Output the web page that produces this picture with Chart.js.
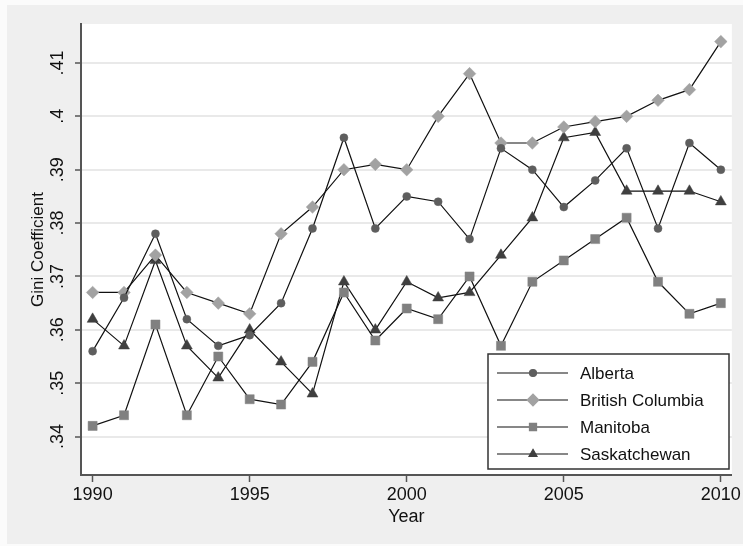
<!DOCTYPE html>
<html>
<head>
<meta charset="utf-8">
<script src="https://cdn.jsdelivr.net/npm/chart.js@4.4.1/dist/chart.umd.min.js"></script>
<style>
  html, body { margin: 0; padding: 0; background: #fbfbfb; }
  #wrap { width: 743px; height: 546px; }
</style>
</head>
<body>
<div id="wrap"><canvas id="giniChart" width="743" height="546"></canvas></div>
<script>
// Gini coefficient by province, 1990-2010
const years = [1990, 1991, 1992, 1993, 1994, 1995, 1996, 1997, 1998, 1999, 2000,
               2001, 2002, 2003, 2004, 2005, 2006, 2007, 2008, 2009, 2010];
const alberta = [.356, .366, .378, .362, .357, .359, .365, .379, .396, .379, .385,
                 .384, .377, .394, .390, .383, .388, .394, .379, .395, .390];
const britishColumbia = [.367, .367, .374, .367, .365, .363, .378, .383, .390, .391, .390,
                         .400, .408, .395, .395, .398, .399, .400, .403, .405, .414];
const manitoba = [.342, .344, .361, .344, .355, .347, .346, .354, .367, .358, .364,
                  .362, .370, .357, .369, .373, .377, .381, .369, .363, .365];
const saskatchewan = [.362, .357, .373, .357, .351, .360, .354, .348, .369, .360, .369,
                      .366, .367, .374, .381, .396, .397, .386, .386, .386, .384];

const xTicks = [1990, 1995, 2000, 2005, 2010];
const yTicks = [.34, .35, .36, .37, .38, .39, .40, .41];

const FONT = "'Liberation Sans', Arial, sans-serif";

function toPoints(values) {
    return values.map((v, i) => ({ x: years[i], y: v }));
}

function series(label, values, style, color, radius, legendRadius) {
    return {
        label: label,
        data: toPoints(values),
        borderColor: '#111',
        borderWidth: 1.2,
        pointStyle: style,
        pointRadius: radius,
        pointBackgroundColor: color,
        pointBorderColor: color,
        pointBorderWidth: 0.5,
        legendRadius: legendRadius,
        tension: 0
    };
}

// background: light outer frame, gray graph region, white plot region
const backgroundPlugin = {
    id: 'background',
    beforeDraw(chart) {
        const ctx = chart.ctx;
        const a = chart.chartArea;
        ctx.save();
        ctx.fillStyle = '#fbfbfb';
        ctx.fillRect(0, 0, chart.width, chart.height);
        ctx.fillStyle = '#efefef';
        ctx.fillRect(7, 5, chart.width - 7, chart.height - 7);
        ctx.fillStyle = '#ffffff';
        ctx.fillRect(a.left, a.top, a.right - a.left, a.bottom - a.top);
        ctx.restore();
    }
};

// legend box drawn inside the plot, lower right
const insideLegend = {
    id: 'insideLegend',
    afterDraw(chart) {
        const ctx = chart.ctx;
        const box = { left: 488, top: 354, right: 729, bottom: 469 };
        ctx.save();
        ctx.fillStyle = '#ffffff';
        ctx.fillRect(box.left, box.top, box.right - box.left, box.bottom - box.top);
        ctx.strokeStyle = '#333';
        ctx.lineWidth = 1.5;
        ctx.strokeRect(box.left, box.top, box.right - box.left, box.bottom - box.top);

        chart.data.datasets.forEach((ds, i) => {
            const y = 373 + i * 27;
            ctx.strokeStyle = '#111';
            ctx.lineWidth = 1.2;
            ctx.beginPath();
            ctx.moveTo(497, y);
            ctx.lineTo(568, y);
            ctx.stroke();

            ctx.fillStyle = ds.pointBackgroundColor;
            ctx.strokeStyle = ds.pointBorderColor;
            Chart.helpers.drawPoint(ctx, {
                pointStyle: ds.pointStyle,
                radius: ds.legendRadius,
                rotation: 0,
                borderWidth: 0.5
            }, 533, y);

            ctx.fillStyle = '#111';
            ctx.font = '17px ' + FONT;
            ctx.textAlign = 'left';
            ctx.textBaseline = 'middle';
            ctx.fillText(ds.label, 580, y + 1);
        });
        ctx.restore();
    }
};

const ctx = document.getElementById('giniChart').getContext('2d');

new Chart(ctx, {
    type: 'line',
    data: {
        datasets: [
            series('Alberta', alberta, 'circle', '#5e5e5e', 4, 3.5),
            series('British Columbia', britishColumbia, 'rectRot', '#a2a2a2', 6.3, 5.8),
            series('Manitoba', manitoba, 'rect', '#808080', 6.4, 5),
            series('Saskatchewan', saskatchewan, 'triangle', '#3f3f3f', 6.3, 4.6)
        ]
    },
    options: {
        responsive: false,
        animation: false,
        events: [],
        layout: { padding: { top: 24, right: 8, left: 0, bottom: 0 } },
        plugins: {
            legend: { display: false },
            tooltip: { enabled: false }
        },
        scales: {
            x: {
                type: 'linear',
                min: 1989.63,
                max: 2010.35,
                afterBuildTicks: scale => { scale.ticks = xTicks.map(v => ({ value: v })); },
                afterFit: scale => { scale.height = 71; },
                grid: {
                    drawOnChartArea: false,
                    drawTicks: true,
                    tickLength: 7,
                    tickColor: '#555',
                    tickWidth: 1.5
                },
                border: { color: '#555', width: 2 },
                ticks: {
                    color: '#111',
                    font: { family: FONT, size: 18 },
                    padding: 2,
                    maxRotation: 0,
                    callback: v => String(v)
                },
                title: {
                    display: true,
                    text: 'Year',
                    color: '#111',
                    font: { family: FONT, size: 18 },
                    padding: { top: 0, bottom: 18 }
                }
            },
            y: {
                min: 0.3328,
                max: 0.4173,
                afterBuildTicks: scale => { scale.ticks = yTicks.map(v => ({ value: v })); },
                afterFit: scale => { scale.width = 81; },
                grid: {
                    color: '#e9e9e9',
                    lineWidth: 2,
                    drawTicks: true,
                    tickLength: 6,
                    tickColor: '#555',
                    tickWidth: 1.5
                },
                border: { color: '#555', width: 2 },
                ticks: {
                    color: '#111',
                    font: { family: FONT, size: 18 },
                    minRotation: 90,
                    maxRotation: 90,
                    crossAlign: 'center',
                    padding: 4,
                    callback: v => v.toFixed(2).replace(/^0/, '').replace(/0$/, '')
                },
                title: {
                    display: true,
                    text: 'Gini Coefficient',
                    color: '#111',
                    font: { family: FONT, size: 17 },
                    padding: { top: 28, bottom: 0 }
                }
            }
        }
    },
    plugins: [backgroundPlugin, insideLegend]
});
</script>
</body>
</html>
